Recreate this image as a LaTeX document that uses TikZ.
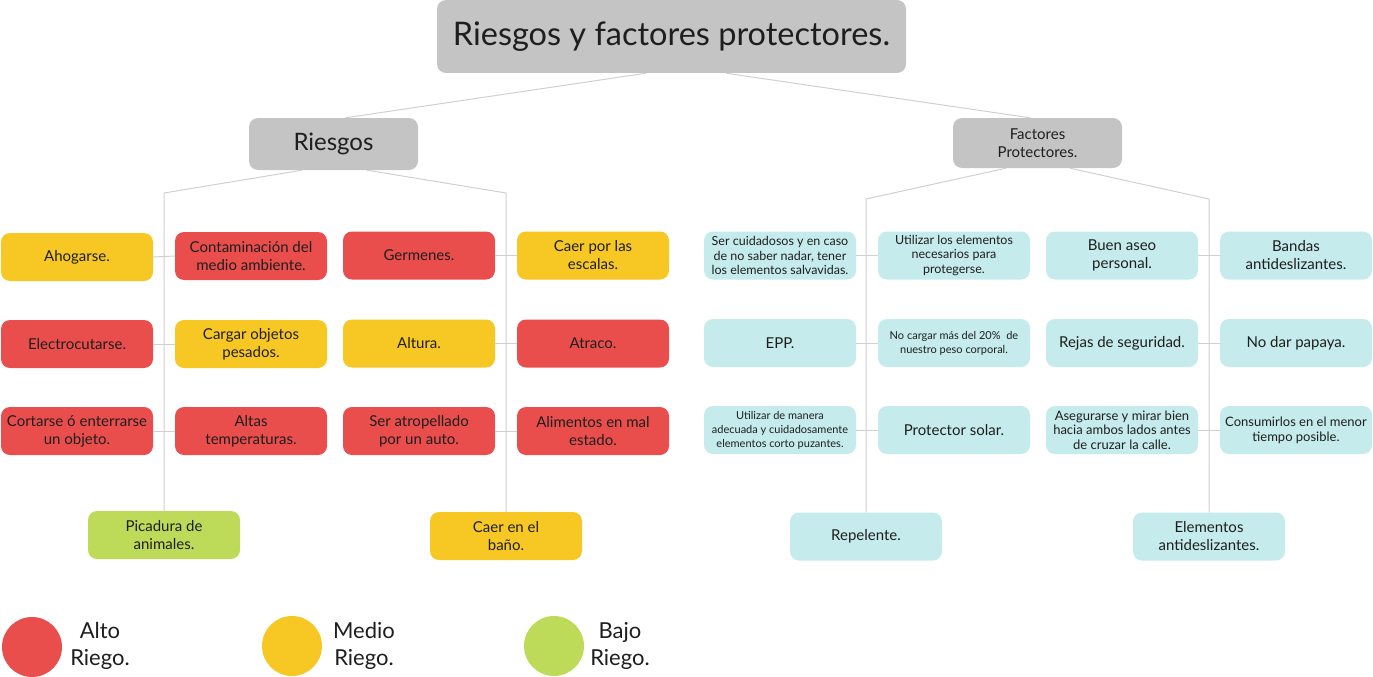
\documentclass[tikz,border=0pt]{standalone}
\usepackage{fontspec}
\setmainfont{Lato}
\definecolor{cred}{RGB}{233,78,77}
\definecolor{cyel}{RGB}{247,200,35}
\definecolor{cgrn}{RGB}{189,219,89}
\definecolor{ccya}{RGB}{197,235,236}
\definecolor{cgry}{RGB}{196,196,196}
\definecolor{cline}{RGB}{208,208,208}
\definecolor{ctxt}{RGB}{30,30,30}
\tikzset{
  rb/.style={rounded corners=9pt, align=center, inner sep=0pt, minimum width=152pt, minimum height=48pt, text=ctxt, font=\fontsize{15}{18}\selectfont},
  rbs/.style={rb, font=\fontsize{12.5}{14.5}\selectfont},
  rbxs/.style={rb, font=\fontsize{11}{14}\selectfont},
  hi/.style={fill=cred}, me/.style={fill=cyel}, lo/.style={fill=cgrn}, pr/.style={fill=ccya},
  ln/.style={draw=cline, line width=1pt},
  leg/.style={align=center, text=ctxt, font=\fontsize{22}{27}\selectfont}
}
\begin{document}
\begin{tikzpicture}[x=1pt,y=-1pt]
\useasboundingbox (0,0) rectangle (1373,677);
% top level
\node[rb, fill=cgry, minimum width=469pt, minimum height=73pt, font=\fontsize{32.5}{36}\selectfont] (title) at (671.5,36.5) {Riesgos y factores protectores.};
\node[rb, fill=cgry, minimum width=169pt, minimum height=52pt, font=\fontsize{24}{28}\selectfont] (ries) at (333.5,144) {Riesgos};
\node[rb, fill=cgry, minimum width=169pt, minimum height=50pt, font=\fontsize{15}{18}\selectfont] (fact) at (1037.5,143) {Factores\\Protectores.};
% risks
\node[rb, me] (a1) at (77,257) {Ahogarse.};
\node[rb, hi] (a2) at (251,256) {Contaminación del\\medio ambiente.};
\node[rb, hi] (a3) at (419,255.5) {Germenes.};
\node[rb, me] (a4) at (593,255.5) {Caer por las\\escalas.};
\node[rb, hi] (b1) at (77,344) {Electrocutarse.};
\node[rb, me] (b2) at (251,344) {Cargar objetos\\pesados.};
\node[rb, me] (b3) at (419,343.5) {Altura.};
\node[rb, hi] (b4) at (593,343.5) {Atraco.};
\node[rb, hi] (c1) at (77,431) {Cortarse ó enterrarse\\un objeto.};
\node[rb, hi] (c2) at (251,431) {Altas\\temperaturas.};
\node[rb, hi] (c3) at (419,431) {Ser atropellado\\por un auto.};
\node[rb, hi] (c4) at (593,431) {Alimentos en mal\\estado.};
\node[rb, lo] (d1) at (164,535) {Picadura de\\animales.};
\node[rb, me] (d2) at (506,536) {Caer en el\\baño.};
% protective factors
\node[rbs, pr] (p1) at (780,255.5) {Ser cuidadosos y en caso\\de no saber nadar, tener\\los elementos salvavidas.};
\node[rbs, pr] (p2) at (954,255.5) {Utilizar los elementos\\necesarios para\\protegerse.};
\node[rb, pr] (p3) at (1122,255.5) {Buen aseo\\personal.};
\node[rb, pr] (p4) at (1296,255.5) {Bandas\\antideslizantes.};
\node[rb, pr] (q1) at (780,343) {EPP.};
\node[rbxs, pr] (q2) at (954,343) {No cargar más del 20\%\ \ de\\nuestro peso corporal.};
\node[rb, pr] (q3) at (1122,343) {Rejas de seguridad.};
\node[rb, pr] (q4) at (1296,343) {No dar papaya.};
\node[rbxs, pr] (r1) at (780,430) {Utilizar de manera\\adecuada y cuidadosamente\\elementos corto puzantes.};
\node[rb, pr] (r2) at (954,430) {Protector solar.};
\node[rbs, pr, font=\fontsize{13}{14.5}\selectfont] (r3) at (1122,430) {Asegurarse y mirar bien\\hacia ambos lados antes\\de cruzar la calle.};
\node[rbs, pr, font=\fontsize{13}{15}\selectfont] (r4) at (1296,430) {Consumirlos en el menor\\tiempo posible.};
\node[rb, pr] (s1) at (866,536.5) {Repelente.};
\node[rb, pr] (s2) at (1209,536.5) {Elementos\\antideslizantes.};
% connectors
\coordinate (bl) at (164,193);
\coordinate (br) at (506,193);
\coordinate (fl) at (866,199);
\coordinate (fr) at (1209,199);
\draw[ln] ([xshift=-25.5pt]title.south) -- ([xshift=12pt]ries.north);
\draw[ln] ([xshift=54.5pt]title.south) -- ([xshift=-7.5pt]fact.north);
\draw[ln] ([xshift=-31.5pt]ries.south) -- (bl) -- (d1.north);
\draw[ln] ([xshift=33.5pt]ries.south) -- (br) -- (d2.north);
\draw[ln] ([xshift=-31.5pt]fact.south) -- (fl) -- (s1.north);
\draw[ln] ([xshift=32.5pt]fact.south) -- (fr) -- (s2.north);
\foreach \l/\r in {a1/a2,b1/b2,c1/c2,a3/a4,b3/b4,c3/c4,p1/p2,q1/q2,r1/r2,p3/p4,q3/q4,r3/r4}
  \draw[ln] (\l.east) -- (\r.west);
% legend
\fill[cred] (32,647) circle (30pt);
\fill[cyel] (292,646) circle (30pt);
\fill[cgrn] (554,646) circle (30pt);
\node[leg] (l1) at (100,646) {Alto\\Riego.};
\node[leg] (l2) at (364,646) {Medio\\Riego.};
\node[leg] (l3) at (620,646) {Bajo\\Riego.};
\end{tikzpicture}
\end{document}
